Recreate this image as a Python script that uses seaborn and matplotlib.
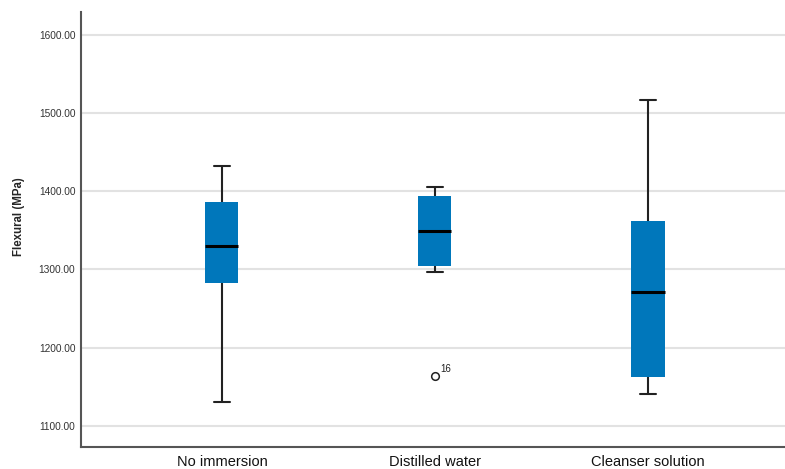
import numpy as np
import pandas as pd
import matplotlib
matplotlib.use('Agg')
import matplotlib.pyplot as plt
from matplotlib.ticker import FormatStrFormatter
import seaborn as sns

# values (9 samples per group, chosen so the
# quartiles / whiskers match the picture)
groups = ['No immersion', 'Distilled water', 'Cleanser solution']
no_immersion = [1130, 1250, 1283, 1310, 1330, 1360, 1386, 1410, 1432]
distilled_water = [1164, 1297, 1305, 1320, 1349, 1375, 1394, 1400, 1406]
cleanser_solution = [1141, 1155, 1163, 1220, 1271, 1320, 1362, 1440, 1517]
outlier_id = '16'
yticks = [1100, 1200, 1300, 1400, 1500, 1600]

df = pd.DataFrame({
    'group': np.repeat(groups, 9),
    'Flexural (MPa)': no_immersion + distilled_water + cleanser_solution,
})

sns.set_style('white')
plt.rcParams['font.family'] = ['Liberation Sans', 'DejaVu Sans']

fig = plt.figure(figsize=(7.85, 4.69), dpi=100)
ax = fig.add_axes([0.103, 0.047, 0.897, 0.927])

box_col = '#0077BB'
sns.boxplot(data=df, x='group', y='Flexural (MPa)', order=groups, ax=ax,
            width=0.155, color=box_col, saturation=1,
            boxprops=dict(facecolor=box_col, edgecolor=box_col, linewidth=0),
            medianprops=dict(color='black', linewidth=2.2),
            whiskerprops=dict(color='#222222', linewidth=1.5),
            capprops=dict(color='#222222', linewidth=1.5),
            flierprops=dict(marker='o', markerfacecolor='white',
                            markeredgecolor='#222222', markersize=5.5,
                            markeredgewidth=1.1))

# label for the outlier
out_val = min(distilled_water)
ax.annotate(outlier_id, xy=(1, out_val), xytext=(4, 3),
            textcoords='offset points', fontsize=7, color='#222222')

ax.set_xlim(-0.662, 2.643)
ax.set_ylim(1073, 1629)
ax.set_yticks(yticks)
ax.yaxis.set_major_formatter(FormatStrFormatter('%.2f'))
ax.yaxis.grid(True, color='#e2e2e2', linewidth=1.5)
ax.set_axisbelow(True)

for s in ['top', 'right']:
    ax.spines[s].set_visible(False)
for s in ['left', 'bottom']:
    ax.spines[s].set_color('#555555')
    ax.spines[s].set_linewidth(1.5)

ax.tick_params(axis='y', length=0, pad=4, labelsize=7.3, labelcolor='#333333')
ax.tick_params(axis='x', length=0, pad=6, labelsize=10.5, labelcolor='#111111')
ax.set_xlabel('')
ax.set_ylabel('Flexural (MPa)', fontsize=8.3, fontweight='bold')
ax.yaxis.set_label_coords(-0.079, 0.53)

fig.savefig('out.png', dpi=100)
